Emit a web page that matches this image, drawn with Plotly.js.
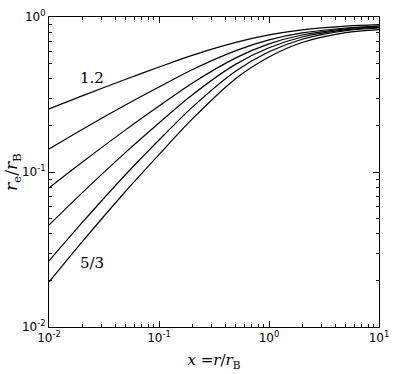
<!DOCTYPE html>
<html>
<head>
<meta charset="utf-8">
<script src="https://cdn.plot.ly/plotly-3.0.1.min.js"></script>
<style>
  html, body { margin: 0; padding: 0; background: #fff; }
  #plot { width: 399px; height: 374px; }
</style>
</head>
<body>
<div id="plot"></div>
<script>
// x = r / r_B
var xVals = [0.01, 0.02, 0.05, 0.1, 0.2, 0.5, 1, 2, 5, 10];

// r_e / r_B, one curve per gamma
var gammas = ['1.2', '1.3', '1.4', '1.5', '1.6', '5/3'];
var g12 = [0.2553, 0.3100, 0.3970, 0.4754, 0.5655, 0.6855, 0.7660, 0.8266, 0.8734, 0.8917];
var g13 = [0.1406, 0.1881, 0.2714, 0.3532, 0.4565, 0.6065, 0.7112, 0.7892, 0.8492, 0.8730];
var g14 = [0.0789, 0.1155, 0.1877, 0.2664, 0.3741, 0.5448, 0.6707, 0.7651, 0.8385, 0.8650];
var g15 = [0.0455, 0.0734, 0.1344, 0.2073, 0.3141, 0.4967, 0.6331, 0.7425, 0.8289, 0.8582];
var g16 = [0.0267, 0.0471, 0.0967, 0.1608, 0.2613, 0.4486, 0.5961, 0.7188, 0.8172, 0.8490];
var g53 = [0.0195, 0.0354, 0.0754, 0.1295, 0.2192, 0.4014, 0.5522, 0.6846, 0.7927, 0.8293];
var curves = [g12, g13, g14, g15, g16, g53];

var data = [];
for (var i = 0; i < curves.length; i++) {
  data.push({
    x: xVals,
    y: curves[i],
    name: gammas[i],
    mode: 'lines',
    type: 'scatter',
    line: {color: 'black', width: 1.2, shape: 'spline', smoothing: 0.8},
    hoverinfo: 'skip'
  });
}

function minorVals(lo, hi) {
  var out = [];
  for (var p = lo; p < hi; p++) {
    for (var k = 2; k <= 9; k++) out.push(k * Math.pow(10, p));
  }
  return out;
}

var serif = 'DejaVu Serif';
var tickFont = {family: 'DejaVu Sans', size: 12, color: 'black'};
var mathFont = {family: serif, size: 15, color: 'black'};

var axisBase = {
  type: 'log',
  showgrid: false,
  zeroline: false,
  showline: true,
  linecolor: 'black',
  linewidth: 1,
  mirror: 'allticks',
  ticks: 'inside',
  ticklen: 6,
  tickwidth: 1,
  tickcolor: 'black',
  tickfont: tickFont,
  tickmode: 'array'
};

var layout = {
  width: 399,
  height: 374,
  margin: {l: 49, r: 20, t: 17, b: 47},
  paper_bgcolor: 'white',
  plot_bgcolor: 'white',
  showlegend: false,
  xaxis: Object.assign({}, axisBase, {
    range: [-2, 1],
    tickvals: [0.01, 0.1, 1, 10],
    ticktext: ['10<sup>-2</sup>', '10<sup>-1</sup>', '10<sup>0</sup>', '10<sup>1</sup>'],
    minor: {ticks: 'inside', ticklen: 3, tickcolor: 'black', tickmode: 'array', tickvals: minorVals(-2, 1)},
    title: {text: '<i>x</i> =<i>r</i>/<i>r</i><sub>B</sub>', font: mathFont, standoff: 10}
  }),
  yaxis: Object.assign({}, axisBase, {
    range: [-2, 0],
    tickvals: [0.01, 0.1, 1],
    ticktext: ['10<sup>-2</sup>', '10<sup>-1</sup>', '10<sup>0</sup>'],
    minor: {ticks: 'inside', ticklen: 3, tickcolor: 'black', tickmode: 'array', tickvals: minorVals(-2, 0)}
  }),
  annotations: [
    {xref: 'paper', yref: 'paper', x: -0.112, y: 0.5, xanchor: 'center', yanchor: 'middle',
     textangle: -90, text: '<i>r</i><sub>e</sub>/<i>r</i><sub>B</sub>', showarrow: false,
     font: {family: serif, size: 17, color: 'black'}},
    {xref: 'paper', yref: 'paper', x: 0.13, y: 0.803, xanchor: 'center', yanchor: 'middle',
     text: gammas[0], showarrow: false, font: {family: serif, size: 15, color: 'black'}},
    {xref: 'paper', yref: 'paper', x: 0.13, y: 0.206, xanchor: 'center', yanchor: 'middle',
     text: gammas[5], showarrow: false, font: {family: serif, size: 15, color: 'black'}}
  ]
};

Plotly.newPlot('plot', data, layout, {displayModeBar: false, staticPlot: true});
</script>
</body>
</html>
